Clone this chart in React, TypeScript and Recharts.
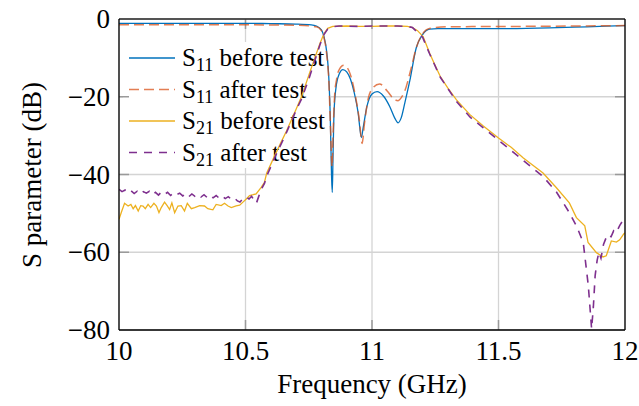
import React from 'react';
import { LineChart, Line, XAxis, YAxis, CartesianGrid, ReferenceLine } from 'recharts';

const X_TICKS = [10, 10.5, 11, 11.5, 12];
const Y_TICKS = [-80, -60, -40, -20, 0];

const S11_BEFORE_F = [10.0, 10.3, 10.5, 10.6, 10.7, 10.76, 10.78, 10.8, 10.81, 10.82, 10.83, 10.835, 10.84, 10.843, 10.846, 10.85, 10.858, 10.87, 10.885, 10.9, 10.915, 10.93, 10.945, 10.958, 10.965, 10.98, 11.0, 11.02, 11.045, 11.07, 11.09, 11.103, 11.115, 11.13, 11.149, 11.175, 11.2, 11.228, 11.26, 11.5, 11.7, 11.85, 12.0];
const S11_BEFORE_DB = [-1.1, -1.1, -1.1, -1.2, -1.3, -1.5, -1.8, -2.8, -4.5, -8, -16, -25, -40, -44.6, -35, -24, -17.5, -14.2, -13.0, -13.6, -15.5, -19, -24, -30.5, -28, -22.5, -19.3, -18.7, -19.8, -22.5, -25.5, -26.7, -25.5, -21.5, -16, -7.4, -4.0, -2.6, -2.5, -2.5, -2.3, -2.0, -1.7];

const S11_AFTER_F = [10.0, 10.5, 10.7, 10.78, 10.8, 10.81, 10.82, 10.83, 10.836, 10.842, 10.847, 10.852, 10.86, 10.872, 10.888, 10.903, 10.918, 10.935, 10.95, 10.961, 10.97, 10.985, 11.0, 11.03, 11.06, 11.085, 11.103, 11.12, 11.129, 11.155, 11.175, 11.2, 11.23, 11.3, 11.6, 12.0];
const S11_AFTER_DB = [-1.5, -1.5, -1.6, -2.0, -3.0, -4.8, -8.5, -17, -28, -38, -28, -20, -15.5, -12.8, -11.9, -12.6, -15, -20, -26, -32, -27, -20.5, -18, -16.7, -18.5, -20.5, -21.0, -19.8, -18.6, -12.6, -7.4, -3.8, -2.4, -2.0, -1.9, -1.7];

const S21_BEFORE_F = [10.0, 10.01, 10.022, 10.036, 10.047, 10.056, 10.065, 10.076, 10.086, 10.095, 10.104, 10.115, 10.125, 10.138, 10.148, 10.158, 10.167, 10.18, 10.191, 10.2, 10.209, 10.22, 10.233, 10.246, 10.259, 10.27, 10.286, 10.299, 10.319, 10.338, 10.351, 10.371, 10.384, 10.404, 10.417, 10.431, 10.444, 10.463, 10.477, 10.49, 10.503, 10.516, 10.53, 10.542, 10.562, 10.575, 10.584, 10.62, 10.662, 10.7, 10.722, 10.75, 10.775, 10.795, 10.81, 10.825, 10.845, 10.9, 10.95, 11.0, 11.05, 11.1, 11.14, 11.16, 11.18, 11.202, 11.228, 11.25, 11.27, 11.3, 11.334, 11.387, 11.44, 11.5, 11.55, 11.597, 11.676, 11.729, 11.78, 11.808, 11.841, 11.854, 11.887, 11.913, 11.926, 11.946, 11.966, 11.979, 11.995, 12.0];
const S21_BEFORE_DB = [-51.5, -49.6, -47.4, -48.1, -47.7, -48.8, -48.0, -49.4, -48.0, -48.1, -48.8, -47.7, -48.5, -47.4, -48.1, -49.8, -48.5, -47.1, -48.1, -49.0, -47.3, -49.8, -48.1, -48.0, -49.4, -47.4, -48.8, -48.5, -48.0, -48.1, -48.8, -49.1, -47.7, -48.0, -47.4, -48.1, -48.5, -48.1, -47.9, -47.1, -46.3, -45.4, -45.2, -45.0, -43.3, -42.0, -39.6, -34.5, -28.8, -23.2, -19.9, -14.5, -9.8, -6.2, -3.8, -2.4, -1.9, -1.8, -1.9, -1.9, -1.8, -1.8, -1.9, -2.2, -3.0, -4.5, -8.8, -12.0, -14.8, -17.8, -20.8, -24.6, -27.5, -30.6, -33.0, -35.7, -39.6, -43.4, -47.3, -51.1, -53.2, -57.5, -60.1, -61.2, -60.9, -57.1, -57.4, -56.8, -55.3, -55.0];

const S21_AFTER_F = [10.0, 10.012, 10.024, 10.036, 10.048, 10.06, 10.072, 10.084, 10.096, 10.108, 10.12, 10.132, 10.144, 10.156, 10.168, 10.18, 10.192, 10.204, 10.216, 10.228, 10.24, 10.252, 10.264, 10.276, 10.288, 10.3, 10.312, 10.324, 10.336, 10.348, 10.36, 10.372, 10.384, 10.396, 10.408, 10.42, 10.432, 10.444, 10.456, 10.468, 10.478, 10.49, 10.502, 10.514, 10.524, 10.534, 10.543, 10.553, 10.565, 10.575, 10.584, 10.62, 10.66, 10.7, 10.722, 10.75, 10.775, 10.795, 10.81, 10.825, 10.845, 10.87, 10.95, 11.0, 11.05, 11.1, 11.14, 11.16, 11.2, 11.228, 11.27, 11.334, 11.387, 11.44, 11.5, 11.55, 11.6, 11.676, 11.729, 11.78, 11.81, 11.835, 11.855, 11.868, 11.875, 11.882, 11.89, 11.897, 11.905, 11.915, 11.93, 11.945, 11.955, 11.965, 11.98, 11.99, 12.0];
const S21_AFTER_DB = [-43.8, -44.4, -44.0, -44.7, -44.2, -44.9, -44.3, -45.0, -44.4, -44.8, -44.3, -45.2, -44.6, -45.3, -44.5, -45.1, -44.6, -45.4, -44.7, -45.2, -44.8, -45.5, -44.9, -45.7, -45.0, -45.6, -45.1, -45.8, -45.2, -45.9, -45.3, -46.0, -45.4, -46.1, -45.5, -46.2, -45.7, -46.4, -46.0, -46.8, -47.1, -46.2, -45.8, -46.3, -45.6, -46.6, -47.4, -45.5, -43.5, -42.3, -40.4, -35.0, -29.5, -23.5, -20.5, -15.5, -10.5, -6.5, -4.0, -2.6, -2.0, -1.8, -1.9, -1.8, -1.8, -1.8, -1.9, -2.2, -4.7, -9.0, -15.0, -21.2, -25.2, -28.0, -31.2, -33.8, -36.5, -40.5, -44.5, -49.8, -53.5, -57.5, -68.6, -79.7, -74.0, -66.0, -62.0, -60.0, -61.5, -58.0, -55.5, -56.0, -54.5, -55.0, -53.0, -52.0, -52.5];

const zip = (fs: number[], vs: number[]) => fs.map((f, i) => ({ f, v: vs[i] }));

const s11Before = zip(S11_BEFORE_F, S11_BEFORE_DB);
const s11After = zip(S11_AFTER_F, S11_AFTER_DB);
const s21Before = zip(S21_BEFORE_F, S21_BEFORE_DB);
const s21After = zip(S21_AFTER_F, S21_AFTER_DB);

const FONT = 'Liberation Serif';
const TXT = { fontFamily: FONT } as React.CSSProperties;
const FS = 25;
const AFS = 27;
const BLUE = '#0072BD';
const ORANGE = '#D95319';
const YELLOW = '#EDB120';
const PURPLE = '#7E2F8E';

const LEGEND_ITEMS = [
  { sub: '11', text: ' before test', color: BLUE, dash: undefined, opacity: 1 },
  { sub: '11', text: ' after test', color: ORANGE, dash: '10 5', opacity: 0.75 },
  { sub: '21', text: ' before test', color: YELLOW, dash: undefined, opacity: 1 },
  { sub: '21', text: ' after test', color: PURPLE, dash: '8 7', opacity: 1 },
];

const Overlay = () => (
  <g>
    <rect x={123} y={42} width={208} height={126} fill="#fff" />
    {LEGEND_ITEMS.map((it, i) => {
      const cy = 58 + i * 31.5;
      return (
        <g key={i}>
          <line x1={129} x2={175} y1={cy} y2={cy} stroke={it.color} strokeWidth={1.4} strokeDasharray={it.dash} strokeOpacity={it.opacity} />
          <text x={182} y={cy + 8} fontFamily={FONT} style={TXT} fontSize={FS} fill="#000">
            S<tspan dy={5} fontSize={18}>{it.sub}</tspan><tspan dy={-5}>{it.text}</tspan>
          </text>
        </g>
      );
    })}
    <text x={372} y={393} fontFamily={FONT} style={TXT} fontSize={AFS} fill="#000" textAnchor="middle">
      Frequency (GHz)
    </text>
    <text x={0} y={0} transform="translate(41 175) rotate(-90)" fontFamily={FONT} style={TXT} fontSize={AFS} fill="#000" textAnchor="middle">
      S parameter (dB)
    </text>
  </g>
);

const fmt = (v: number) => (v < 0 ? '\u2212' + Math.abs(v) : String(v));

const XTick = (props: any) => (
  <text x={props.x} y={props.y + 20} fontFamily={FONT} style={TXT} fontSize={AFS} fill="#000" textAnchor="middle">
    {fmt(props.payload.value)}
  </text>
);
const YTick = (props: any) => (
  <text x={props.x} y={props.y + 9} fontFamily={FONT} style={TXT} fontSize={AFS} fill="#000" textAnchor="end">
    {fmt(props.payload.value)}
  </text>
);

const TICK_DX = 0.0395;
const TICK_DY = 2.57;
const TICK_COLOR = '#9a9a9a';

export default function App() {
  return (
    <div style={{ position: 'absolute', left: 0, top: 0, width: 639, height: 406, background: '#fff', fontFamily: FONT }}>
      <LineChart width={639} height={406} margin={{ top: 19, right: 14, bottom: 0, left: 0 }}>
        <CartesianGrid stroke="#d4d4d4" strokeWidth={1.3} vertical horizontal />
        <XAxis
          dataKey="f"
          type="number"
          domain={[10, 12]}
          ticks={X_TICKS}
          allowDataOverflow
          height={76}
          tickSize={0}
          tickMargin={10}
          tickLine={false}
          axisLine={{ stroke: '#000', strokeWidth: 1.3 }}
          tick={<XTick />}
        />
        <YAxis
          type="number"
          domain={[-80, 0]}
          ticks={Y_TICKS}
          allowDataOverflow
          width={119}
          tickSize={0}
          tickMargin={9}
          tickLine={false}
          axisLine={{ stroke: '#000', strokeWidth: 1.3 }}
          tick={<YTick />}
        />
        <Overlay />
        {[10.5, 11, 11.5].map((x) => (
          <ReferenceLine key={'xb' + x} segment={[{ x, y: -80 }, { x, y: -80 + TICK_DY }]} stroke={TICK_COLOR} strokeWidth={1.5} />
        ))}
        {[10.5, 11, 11.5].map((x) => (
          <ReferenceLine key={'xt' + x} segment={[{ x, y: 0 }, { x, y: -TICK_DY }]} stroke={TICK_COLOR} strokeWidth={1.5} />
        ))}
        {[-60, -40, -20].map((y) => (
          <ReferenceLine key={'yl' + y} segment={[{ x: 10, y }, { x: 10 + TICK_DX, y }]} stroke={TICK_COLOR} strokeWidth={1.5} />
        ))}
        {[-60, -40, -20].map((y) => (
          <ReferenceLine key={'yr' + y} segment={[{ x: 12 - TICK_DX, y }, { x: 12, y }]} stroke={TICK_COLOR} strokeWidth={1.5} />
        ))}
        <Line data={s11Before} dataKey="v" type="monotone" stroke={BLUE} strokeWidth={1.3} dot={false} isAnimationActive={false} />
        <Line data={s11After} dataKey="v" type="monotone" stroke={ORANGE} strokeOpacity={0.75} strokeWidth={1.5} strokeDasharray="10 5" dot={false} isAnimationActive={false} />
        <Line data={s21Before} dataKey="v" type="linear" stroke={YELLOW} strokeWidth={1.3} dot={false} isAnimationActive={false} />
        <Line data={s21After} dataKey="v" type="linear" stroke={PURPLE} strokeWidth={1.6} strokeDasharray="8 7" dot={false} isAnimationActive={false} />
        <ReferenceLine y={0} stroke="#262626" strokeWidth={1.3} />
        <ReferenceLine x={12} stroke="#000" strokeWidth={1.3} />
      </LineChart>
    </div>
  );
}
